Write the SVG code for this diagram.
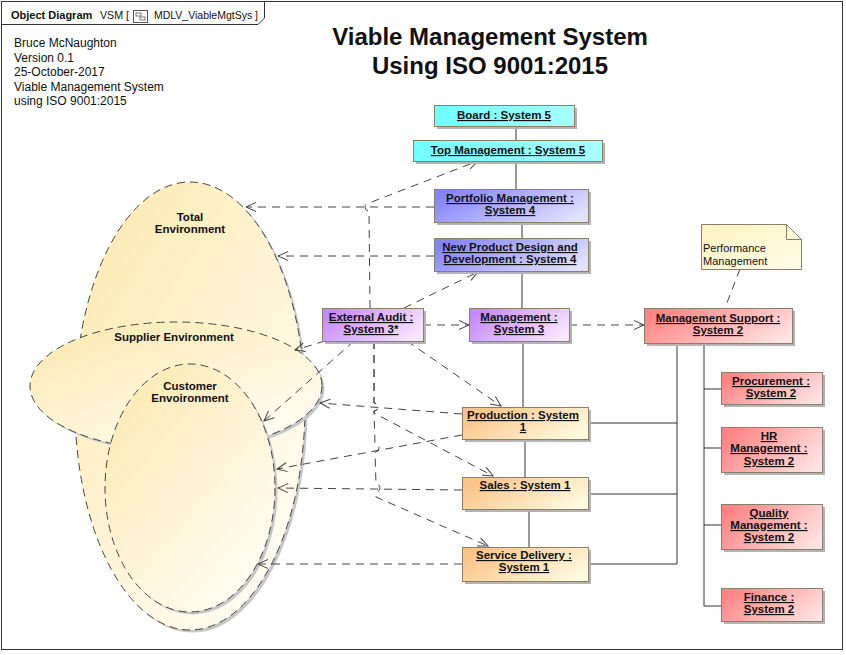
<svg xmlns="http://www.w3.org/2000/svg" width="846" height="655" viewBox="0 0 846 655">
<style>
text{font-family:"Liberation Sans",Arial,sans-serif;fill:#111}
.lbl{font-size:11.5px;font-weight:bold;text-anchor:middle;text-decoration:underline}
.env{font-size:11.5px;font-weight:bold;text-anchor:middle}
.info{font-size:12px}
.box{stroke:#8a7f6a;stroke-width:1}
.shd{fill:#b4b4b4}
.eshd{fill:#c6c6c6}
.dash{fill:none;stroke:#444;stroke-width:1;stroke-dasharray:8,6}
.arr{marker-end:url(#arr)}
.solid{fill:none;stroke:#333;stroke-width:1}
.ell{stroke:#444;stroke-width:1;stroke-dasharray:8,5}
</style>
<defs>
<marker id="arr" markerWidth="12" markerHeight="10" refX="11" refY="5" orient="auto" markerUnits="userSpaceOnUse"><path d="M1,0.5 L11,5 L1,9.5" fill="none" stroke="#444" stroke-width="1"/></marker>
<linearGradient id="gC" x1="0" y1="0" x2="1" y2="0"><stop offset="0" stop-color="#70ffff"/><stop offset="1" stop-color="#a8ffff"/></linearGradient>
<linearGradient id="gB" x1="0" y1="0.3" x2="1" y2="0.7"><stop offset="0" stop-color="#8484fb"/><stop offset="1" stop-color="#e2e2ff"/></linearGradient>
<linearGradient id="gP" x1="0" y1="0.3" x2="1" y2="0.7"><stop offset="0" stop-color="#c589fb"/><stop offset="1" stop-color="#f8e8ff"/></linearGradient>
<linearGradient id="gR" x1="0" y1="0.3" x2="1" y2="0.7"><stop offset="0" stop-color="#ff8383"/><stop offset="1" stop-color="#ffe2e2"/></linearGradient>
<linearGradient id="gO" x1="0" y1="0.3" x2="1" y2="0.7"><stop offset="0" stop-color="#fdc286"/><stop offset="1" stop-color="#fffbe0"/></linearGradient>
<linearGradient id="gN" x1="0" y1="0" x2="1" y2="1"><stop offset="0" stop-color="#fff3bf"/><stop offset="1" stop-color="#fffde8"/></linearGradient>
<linearGradient id="gE" x1="0.15" y1="0.1" x2="0.9" y2="1"><stop offset="0" stop-color="#fdebb6"/><stop offset="1" stop-color="#fffef9"/></linearGradient>
</defs>
<rect x="0" y="0" width="846" height="655" fill="#fff"/>
<rect x="1.5" y="1.5" width="841" height="648" fill="#fff" stroke="#333"/>
<g id="header">
<path d="M1.5,24.5 L258,24.5 L264.5,18 L264.5,1.5" fill="none" stroke="#333"/>
<text x="11" y="19" font-size="11px" font-weight="bold">Object Diagram</text>
<text x="100" y="19" font-size="11px" textLength="29" lengthAdjust="spacingAndGlyphs">VSM [</text>
<rect x="133.5" y="10.5" width="14" height="12" fill="#fff" stroke="#555"/>
<rect x="136" y="13" width="5" height="3" fill="none" stroke="#555" stroke-width="0.8"/>
<rect x="140" y="17" width="5" height="3" fill="none" stroke="#555" stroke-width="0.8"/>
<text x="154" y="19" font-size="11px" textLength="104" lengthAdjust="spacingAndGlyphs">MDLV_ViableMgtSys ]</text>
</g>
<g id="info">
<text class="info" x="14" y="47">Bruce McNaughton</text>
<text class="info" x="14" y="62">Version 0.1</text>
<text class="info" x="14" y="76">25-October-2017</text>
<text class="info" x="14" y="91">Viable Management System</text>
<text class="info" x="14" y="105">using ISO 9001:2015</text>
</g>
<g id="title">
<text x="490" y="45" font-size="24px" font-weight="bold" text-anchor="middle">Viable Management System</text>
<text x="490" y="74" font-size="24px" font-weight="bold" text-anchor="middle">Using ISO 9001:2015</text>
</g>
<g id="total-environment">
<ellipse cx="192.5" cy="408.5" rx="115" ry="224" class="eshd"/>
<ellipse cx="190" cy="406" rx="115" ry="224" fill="url(#gE)" class="ell"/>
<text class="env" x="190" y="221">Total</text>
<text class="env" x="190" y="233">Environment</text>
</g>
<g id="supplier-environment">
<ellipse cx="178.5" cy="388.5" rx="146" ry="64" class="eshd"/>
<ellipse cx="176" cy="386" rx="146" ry="64" fill="url(#gE)" class="ell"/>
<text class="env" x="174" y="341">Supplier Environment</text>
</g>
<g id="customer-environment">
<ellipse cx="192.5" cy="490.5" rx="85" ry="124" class="eshd"/>
<ellipse cx="190" cy="488" rx="85" ry="124" fill="url(#gE)" class="ell"/>
<text class="env" x="190" y="390">Customer</text>
<text class="env" x="190" y="402">Envoironment</text>
</g>
<g id="connectors">
<path class="solid" d="M516,126 V140 M516,161 V189 M522,222 V238 M522,271 V308 M523,341 V407 M525,439 V477 M529,509 V547"/>
<path class="solid" d="M588,423 H677 M588,494 H677 M588,564 H677 M677,343 V564"/>
<path class="solid" d="M704,343 V606 M704,389 H721 M704,448 H721 M704,525 H721 M704,606 H721"/>
<path class="dash arr" d="M434,207 L246,207"/>
<path class="dash arr" d="M434,256 L278,256"/>
<path class="dash arr" d="M370,308 L369,211 A4,4 0 0 1 369,203 L478,161"/>
<path class="dash arr" d="M404,308 L478,272"/>
<path class="dash arr" d="M423,325 L469,325"/>
<path class="dash arr" d="M569,325 L644,325"/>
<path class="dash" d="M740,269 L725,308"/>
<path class="dash arr" d="M325,341 L295,350"/>
<path class="dash arr" d="M354,341 L264,421"/>
<path class="dash arr" d="M407,341 L501,406"/>
<path class="dash arr" d="M374,341 L374,403 A4,4 0 0 1 374,411 L374,413 L493,476"/>
<path class="dash arr" d="M374,341 L374,403 A4,4 0 0 1 374,411 L375,444 A4,4 0 0 1 375,452 L376,484 A4,4 0 0 1 376,492 L376,497 L488,546"/>
<path class="dash arr" d="M462,414 L320,403"/>
<path class="dash arr" d="M462,435 L277,469"/>
<path class="dash arr" d="M462,490 L278,488"/>
<path class="dash arr" d="M462,564 L258,564"/>
</g>
<g id="board">
<rect x="437" y="108" width="140" height="21" class="shd"/>
<rect x="434.5" y="105.5" width="140" height="21" fill="url(#gC)" class="box"/>
<text class="lbl" x="504" y="119">Board : System 5</text>
</g>
<g id="top-management">
<rect x="416" y="143" width="189" height="21" class="shd"/>
<rect x="413.5" y="140.5" width="189" height="21" fill="url(#gC)" class="box"/>
<text class="lbl" x="508" y="154">Top Management : System 5</text>
</g>
<g id="portfolio-management">
<rect x="437" y="192" width="154" height="33" class="shd"/>
<rect x="434.5" y="189.5" width="154" height="33" fill="url(#gB)" class="box"/>
<text class="lbl" x="510" y="202">Portfolio Management :</text>
<text class="lbl" x="510" y="214">System 4</text>
</g>
<g id="new-product-design">
<rect x="437" y="241" width="154" height="33" class="shd"/>
<rect x="434.5" y="238.5" width="154" height="33" fill="url(#gB)" class="box"/>
<text class="lbl" x="510" y="251">New Product Design and</text>
<text class="lbl" x="510" y="263">Development : System 4</text>
</g>
<g id="external-audit">
<rect x="325" y="311" width="101" height="33" class="shd"/>
<rect x="322.5" y="308.5" width="101" height="33" fill="url(#gP)" class="box"/>
<text class="lbl" x="371" y="321">External Audit :</text>
<text class="lbl" x="371" y="333">System 3*</text>
</g>
<g id="management">
<rect x="472" y="311" width="100" height="33" class="shd"/>
<rect x="469.5" y="308.5" width="100" height="33" fill="url(#gP)" class="box"/>
<text class="lbl" x="519" y="321">Management :</text>
<text class="lbl" x="519" y="333">System 3</text>
</g>
<g id="performance-note">
<path d="M701.5,224.5 H786.5 L801.5,239.5 V269.5 H701.5 Z" fill="url(#gN)" stroke="#8a7f6a"/>
<path d="M786.5,224.5 V239.5 H801.5" fill="none" stroke="#8a7f6a"/>
<text x="703" y="252" font-size="11px">Performance</text>
<text x="703" y="265" font-size="11px">Management</text>
</g>
<g id="management-support">
<rect x="647" y="311" width="148" height="35" class="shd"/>
<rect x="644.5" y="308.5" width="148" height="35" fill="url(#gR)" class="box"/>
<text class="lbl" x="718" y="322">Management Support :</text>
<text class="lbl" x="718" y="334">System 2</text>
</g>
<g id="procurement">
<rect x="724" y="375" width="101" height="32" class="shd"/>
<rect x="721.5" y="372.5" width="101" height="32" fill="url(#gR)" class="box"/>
<text class="lbl" x="771" y="385">Procurement :</text>
<text class="lbl" x="771" y="397">System 2</text>
</g>
<g id="hr-management">
<rect x="724" y="430" width="101" height="45" class="shd"/>
<rect x="721.5" y="427.5" width="101" height="45" fill="url(#gR)" class="box"/>
<text class="lbl" x="769" y="440">HR</text>
<text class="lbl" x="769" y="452">Management :</text>
<text class="lbl" x="769" y="465">System 2</text>
</g>
<g id="quality-management">
<rect x="724" y="507" width="101" height="45" class="shd"/>
<rect x="721.5" y="504.5" width="101" height="45" fill="url(#gR)" class="box"/>
<text class="lbl" x="769" y="517">Quality</text>
<text class="lbl" x="769" y="529">Management :</text>
<text class="lbl" x="769" y="541">System 2</text>
</g>
<g id="finance">
<rect x="724" y="591" width="101" height="33" class="shd"/>
<rect x="721.5" y="588.5" width="101" height="33" fill="url(#gR)" class="box"/>
<text class="lbl" x="769" y="601">Finance :</text>
<text class="lbl" x="769" y="613">System 2</text>
</g>
<g id="production">
<rect x="465" y="410" width="126" height="32" class="shd"/>
<rect x="462.5" y="407.5" width="126" height="32" fill="url(#gO)" class="box"/>
<text class="lbl" x="523" y="419">Production : System</text>
<text class="lbl" x="523" y="431">1</text>
</g>
<g id="sales">
<rect x="465" y="480" width="126" height="32" class="shd"/>
<rect x="462.5" y="477.5" width="126" height="32" fill="url(#gO)" class="box"/>
<text class="lbl" x="525" y="489">Sales : System 1</text>
</g>
<g id="service-delivery">
<rect x="465" y="550" width="126" height="34" class="shd"/>
<rect x="462.5" y="547.5" width="126" height="34" fill="url(#gO)" class="box"/>
<text class="lbl" x="524" y="559">Service Delivery :</text>
<text class="lbl" x="524" y="571">System 1</text>
</g>
</svg>
